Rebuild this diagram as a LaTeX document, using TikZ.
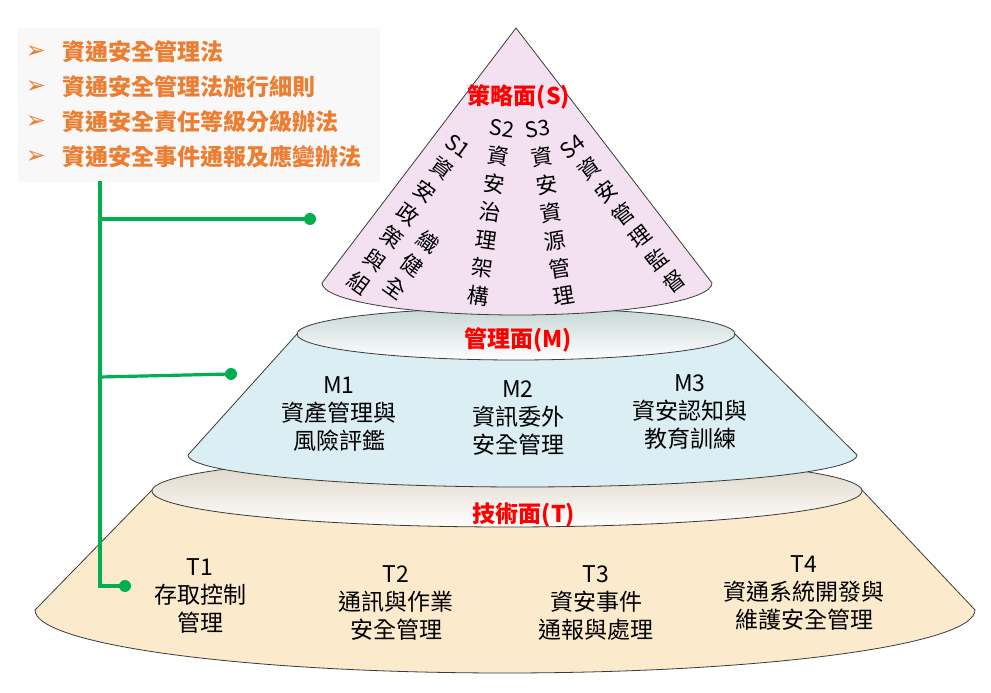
\documentclass[tikz,border=0pt]{standalone}
\usepackage{fontspec}
\newfontfamily\cjk{Noto Sans CJK TC}
\newfontfamily\dejavu{DejaVu Sans}
\definecolor{lawor}{HTML}{ED7D31}
\definecolor{lgreen}{HTML}{00B050}
\definecolor{conepink}{HTML}{F3E0F1}
\definecolor{midcyan}{HTML}{DAEEF3}
\definecolor{midtop}{HTML}{C6D6D6}
\definecolor{bottan}{HTML}{FBEACB}
\definecolor{bottop}{HTML}{DAD0BE}
\definecolor{boxgray}{HTML}{F8F8F8}
\definecolor{edgegray}{HTML}{3A3A3A}
\begin{document}
\begin{tikzpicture}[x=1pt,y=1pt,
  outline/.style={draw=edgegray, line width=0.8pt},
  title/.style={font=\cjk\bfseries\fontsize{23}{26}\selectfont, text=red, inner sep=0pt},
  body/.style={font=\cjk\fontsize{23}{28}\selectfont, align=center, inner sep=0pt},
  col/.style={font=\cjk\fontsize{21.5}{28.3}\selectfont, align=center, inner sep=0pt},
  law/.style={font=\cjk\bfseries\fontsize{23}{26}\selectfont, text=lawor, anchor=west, inner sep=0pt},
  bul/.style={font=\dejavu\fontsize{24}{26}\selectfont, text=lawor, inner sep=0pt},
  link/.style={draw=lgreen, line width=3.2pt},
  dot/.style={circle, fill=lgreen, minimum size=12pt, inner sep=0pt},
]
\useasboundingbox (0,0) rectangle (991,693);

% law box
\node[fill=boxgray, minimum width=362pt, minimum height=154pt, inner sep=0pt] (lawbox) at (199,588) {};
\node[bul] (b1) at (36,641) {➢};
\node[bul] (b2) at (36,606) {➢};
\node[bul] (b3) at (36,571) {➢};
\node[bul] (b4) at (36,536) {➢};
\node[law] (l1) at (62,641) {資通安全管理法};
\node[law] (l2) at (62,606) {資通安全管理法施行細則};
\node[law] (l3) at (62,571) {資通安全責任等級分級辦法};
\node[law] (l4) at (62,536) {資通安全事件通報及應變辦法};

% bottom frustum (technical)
\draw[outline, fill=bottan] (152,203) -- (35,83)
  arc[start angle=180, end angle=360, x radius=470pt, y radius=63pt]
  -- (862,203) -- cycle;
\draw[outline, top color=bottop, bottom color=white] (507,202) ellipse [x radius=355pt, y radius=36pt];

% middle frustum (management)
\draw[outline, fill=midcyan] (297,359) -- (188,238)
  arc[start angle=180, end angle=360, x radius=334.5pt, y radius=32pt]
  -- (857,238) -- (735,359) -- cycle;
\draw[outline, top color=midtop, bottom color=white] (516,359) ellipse [x radius=219pt, y radius=26pt];

% top cone (strategy)
\draw[outline, fill=conepink] (322,410) -- (516,665) -- (712,410)
  arc[start angle=0, end angle=-180, x radius=195pt, y radius=32pt] -- cycle;

% titles
\node[title] (ts) at (519,596) {策略面(S)};
\node[title] (tm) at (518,353) {管理面(M)};
\node[title] (tt) at (524,178) {技術面(T)};

% strategy columns
\node[col, rotate=-36] (s1a) at (408,478) {S1\\資\\安\\政\\策\\與\\組};
\node[col, rotate=-36] (s1b) at (412,428) {織\\健\\全};
\node[col, rotate=-8] (s2) at (490,480) {S2\\資\\安\\治\\理\\架\\構};
\node[col, rotate=9] (s3) at (551,480) {S3\\資\\安\\資\\源\\管\\理};
\node[col, rotate=37] (s4) at (624,478) {S4\\資\\安\\管\\理\\監\\督};

% management
\node[body] (m1) at (339,279) {M1\\資產管理與\\風險評鑑};
\node[body] (m2) at (518,275) {M2\\資訊委外\\安全管理};
\node[body] (m3) at (690,281) {M3\\資安認知與\\教育訓練};

% technical
\node[body] (t1) at (200,97) {T1\\存取控制\\管理};
\node[body] (t2) at (396,90) {T2\\通訊與作業\\安全管理};
\node[body] (t3) at (596,90) {T3\\資安事件\\通報與處理};
\node[body] (t4) at (804,100) {T4\\資通系統開發與\\維護安全管理};

% green connectors
\coordinate (top0) at (100,512);
\coordinate (j1) at (100,474);
\coordinate (j2) at (100,316);
\coordinate (c3) at (100,107);
\node[dot] (d1) at (310,474) {};
\node[dot] (d2) at (231,319) {};
\node[dot] (d3) at (125,107) {};
\draw[link] (top0) -- (c3) -- (d3.center);
\draw[link] (j1) -- (d1.center);
\draw[link] (j2) -- (d2.center);
\end{tikzpicture}
\end{document}
